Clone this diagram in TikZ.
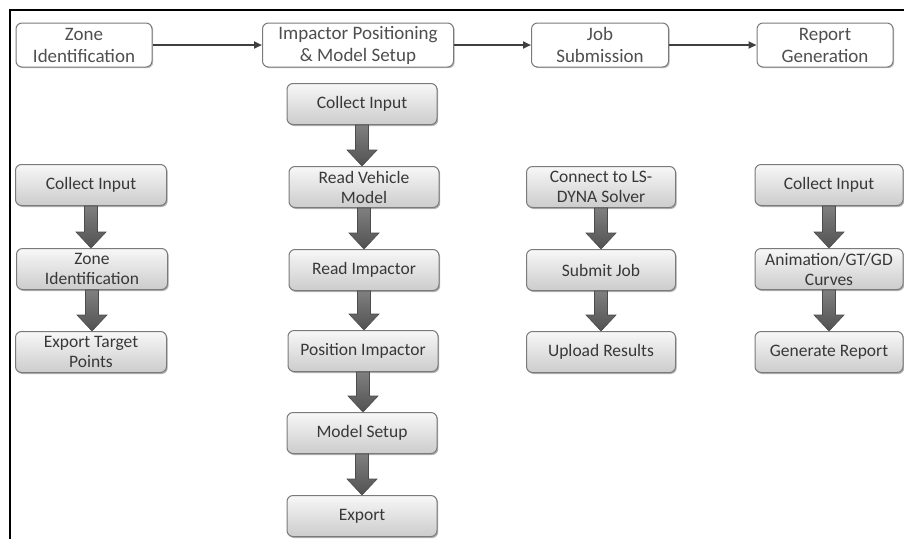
\documentclass[tikz,border=0pt]{standalone}
\usepackage{fontspec}
\setmainfont{Carlito}
\usetikzlibrary{shadows,calc,arrows.meta}
\definecolor{toptxt}{HTML}{4F4F4F}
\definecolor{boxtxt}{HTML}{383838}
\definecolor{boxline}{HTML}{7A7A7A}
\definecolor{arrline}{HTML}{3F3F3F}
\newcommand\blockarrow[2]{%
  \path[barrow] let \p1=(#1.south), \p2=(#2.north) in
  (\x1-6.5pt,\y1) -- (\x1+6.5pt,\y1) -- (\x1+6.5pt,\y2+16pt) -- (\x1+15pt,\y2+16pt)
  -- (\x1,\y2) -- (\x1-15pt,\y2+16pt) -- (\x1-6.5pt,\y2+16pt) -- cycle;}
\begin{document}
\begin{tikzpicture}[x=1pt,y=-1pt,
  topbox/.style={draw=boxline, line width=1pt, fill=white, rounded corners=6pt,
    minimum height=44pt, inner sep=0pt, align=center, text=toptxt,
    font=\fontsize{19}{22}\selectfont,
    drop shadow={shadow xshift=1.2pt, shadow yshift=-1.2pt, opacity=0.25, fill=black}},
  stepbox/.style={draw=boxline, line width=1pt, rounded corners=6pt,
    top color=white!97!black, bottom color=white!80!black,
    minimum height=41pt, minimum width=150pt, inner sep=0pt, align=center, text=boxtxt,
    font=\fontsize{17.5}{20}\selectfont,
    drop shadow={shadow xshift=1.2pt, shadow yshift=-1.5pt, opacity=0.3, fill=black}},
  barrow/.style={draw=black!70, line width=0.6pt, top color=black!50, bottom color=black!68},
  toparrow/.style={draw=arrline, line width=2pt, -{Triangle[length=8pt,width=7pt]}}]
\useasboundingbox (0,0) rectangle (904,539);
\fill[white] (0,0) rectangle (904,539);
\draw[line width=2pt] (10,539) -- (10,10) -- (904,10);

% top row
\node[topbox, minimum width=136pt] (t1) at (84,45) {Zone\\Identification};
\node[topbox, minimum width=191pt] (t2) at (358,45) {Impactor Positioning\\\& Model Setup};
\node[topbox, minimum width=137pt] (t3) at (600,45) {Job\\Submission};
\node[topbox, minimum width=136pt] (t4) at (825,45) {Report\\Generation};
\draw[toparrow] (t1.east) -- (t2.west);
\draw[toparrow] (t2.east) -- (t3.west);
\draw[toparrow] (t3.east) -- (t4.west);

% column 1
\node[stepbox, minimum width=151pt] (a1) at (91,185) {Collect Input};
\node[stepbox, minimum width=151pt] (a2) at (92,269) {Zone\\Identification};
\node[stepbox, minimum width=151pt] (a3) at (91,352) {Export Target\\Points};

% column 2
\node[stepbox] (b1) at (362,104) {Collect Input};
\node[stepbox] (b2) at (364,187) {Read Vehicle\\Model};
\node[stepbox] (b3) at (364,270) {Read Impactor};
\node[stepbox] (b4) at (363,351) {Position Impactor};
\node[stepbox] (b5) at (362,433) {Model Setup};
\node[stepbox] (b6) at (362,516) {Export};

% column 3
\node[stepbox, minimum width=149pt] (c1) at (601,187) {Connect to LS-\\DYNA Solver};
\node[stepbox, minimum width=149pt] (c2) at (601,270) {Submit Job};
\node[stepbox, minimum width=149pt] (c3) at (601,352) {Upload Results};

% column 4
\node[stepbox, minimum width=148pt] (d1) at (829,185) {Collect Input};
\node[stepbox, minimum width=148pt] (d2) at (829,269) {Animation/GT/GD\\Curves};
\node[stepbox, minimum width=148pt] (d3) at (829,352) {Generate Report};

\blockarrow{a1}{a2}
\blockarrow{a2}{a3}
\blockarrow{b1}{b2}
\blockarrow{b2}{b3}
\blockarrow{b3}{b4}
\blockarrow{b4}{b5}
\blockarrow{b5}{b6}
\blockarrow{c1}{c2}
\blockarrow{c2}{c3}
\blockarrow{d1}{d2}
\blockarrow{d2}{d3}
\end{tikzpicture}
\end{document}
